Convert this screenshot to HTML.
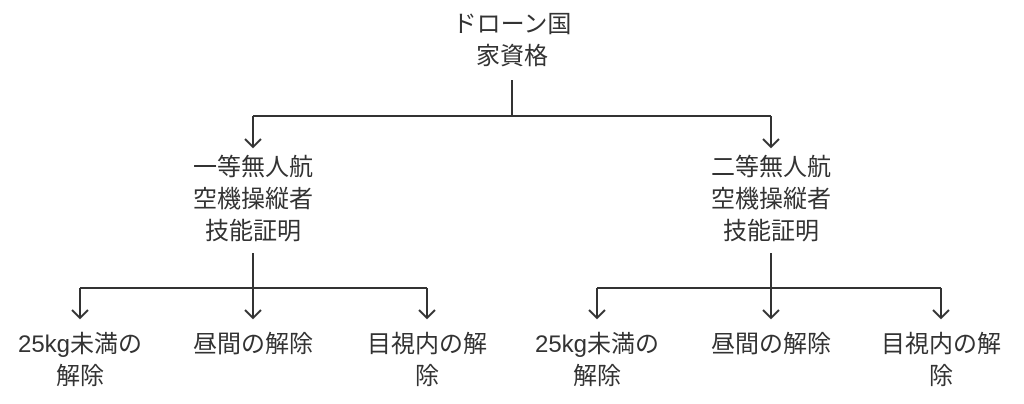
<!DOCTYPE html>
<html><head><meta charset="utf-8"><style>
body{margin:0;background:#fff;width:1024px;height:404px;overflow:hidden;position:relative;font-family:"Liberation Sans","Noto Sans CJK JP",sans-serif;color:#333}
.t{position:absolute;text-align:center;font-size:24px;line-height:32px;transform:translateX(-50%);white-space:nowrap}
svg{position:absolute;left:0;top:0}
</style></head><body>
<svg width="1024" height="404" fill="none" stroke="#333" stroke-width="2">
<path d="M512 80V116M253 116H771M253 116V147M771 116V147"/>
<path d="M245 139L253 147L261 139M763 139L771 147L779 139"/>
<path d="M253 253V318M80 288H427M80 288V318M427 288V318"/>
<path d="M771 253V318M597 288H941M597 288V318M941 288V318"/>
<path d="M72 310L80 318L88 310M245 310L253 318L261 310M419 310L427 318L435 310"/>
<path d="M589 310L597 318L605 310M763 310L771 318L779 310M933 310L941 318L949 310"/>
</svg>
<div class="t" style="left:512px;top:9px">ドローン国<br>家資格</div>
<div class="t" style="left:253px;top:152px">一等無人航<br>空機操縦者<br>技能証明</div>
<div class="t" style="left:771px;top:152px">二等無人航<br>空機操縦者<br>技能証明</div>
<div class="t" style="left:80px;top:329px">25kg未満の<br>解除</div>
<div class="t" style="left:253px;top:329px">昼間の解除</div>
<div class="t" style="left:427px;top:329px">目視内の解<br>除</div>
<div class="t" style="left:597px;top:329px">25kg未満の<br>解除</div>
<div class="t" style="left:771px;top:329px">昼間の解除</div>
<div class="t" style="left:941px;top:329px">目視内の解<br>除</div>
</body></html>
